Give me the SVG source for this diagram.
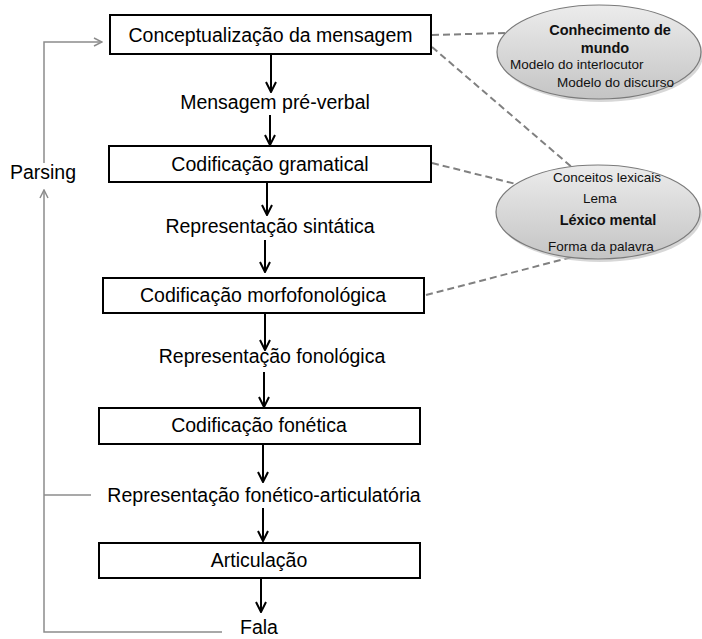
<svg xmlns="http://www.w3.org/2000/svg" width="702" height="639" viewBox="0 0 702 639">
<defs>
<style>
.box{fill:#fff;stroke:#000;stroke-width:2}
.lbl{font-family:"Liberation Sans",Arial,sans-serif;font-size:19.5px;fill:#000;text-anchor:middle}
.sm{font-family:"Liberation Sans",Arial,sans-serif;font-size:13.5px;fill:#111}
.smb{font-family:"Liberation Sans",Arial,sans-serif;font-size:14.5px;font-weight:bold;fill:#111;text-anchor:middle}
.flow{stroke:#000;stroke-width:2;fill:none}
.fb{stroke:#8c8c8c;stroke-width:1.5;fill:none}
.dash{stroke:#808080;stroke-width:2;stroke-dasharray:7 4;fill:none}
.ell{fill:url(#g);stroke:#7a7a7a;stroke-width:1.2}
</style>
<linearGradient id="g" x1="0" y1="0" x2="0" y2="1">
<stop offset="0" stop-color="#ececec"/>
<stop offset="1" stop-color="#c4c4c4"/>
</linearGradient>
<marker id="ah" viewBox="0 0 12 12" refX="11" refY="6" markerWidth="12" markerHeight="12" markerUnits="userSpaceOnUse" orient="auto">
<path d="M1,1 L11,6 L1,11" fill="none" stroke="#000" stroke-width="2"/>
</marker>
<marker id="ag" viewBox="0 0 10 10" refX="9" refY="5" markerWidth="10" markerHeight="10" markerUnits="userSpaceOnUse" orient="auto">
<path d="M1,1 L9,5 L1,9" fill="none" stroke="#8c8c8c" stroke-width="1.5"/>
</marker>
</defs>
<rect width="702" height="639" fill="#fff"/>

<g id="connectors">
<line class="flow" x1="271" y1="55" x2="271" y2="92" marker-end="url(#ah)"/>
<line class="flow" x1="270" y1="115" x2="270" y2="145" marker-end="url(#ah)"/>
<line class="flow" x1="267" y1="183" x2="267" y2="215" marker-end="url(#ah)"/>
<line class="flow" x1="265" y1="240" x2="265" y2="272" marker-end="url(#ah)"/>
<line class="flow" x1="265" y1="314" x2="265" y2="350" marker-end="url(#ah)"/>
<line class="flow" x1="264" y1="372" x2="264" y2="407" marker-end="url(#ah)"/>
<line class="flow" x1="263" y1="445" x2="263" y2="482" marker-end="url(#ah)"/>
<line class="flow" x1="263" y1="508" x2="263" y2="541" marker-end="url(#ah)"/>
<line class="flow" x1="261" y1="579" x2="261" y2="612" marker-end="url(#ah)"/>
<polyline class="fb" points="44,163 44,42 102,42" marker-end="url(#ag)"/>
<polyline class="fb" points="222,632 44,632 44,190" marker-end="url(#ag)"/>
<line class="fb" x1="44" y1="495" x2="91" y2="495"/>
<line class="dash" x1="432" y1="35" x2="506" y2="33"/>
<line class="dash" x1="432" y1="47" x2="574" y2="169"/>
<line class="dash" x1="432" y1="163" x2="580" y2="200"/>
<line class="dash" x1="426" y1="295" x2="580" y2="255"/>
</g>

<g id="n-concept">
<rect class="box" x="110" y="15" width="321" height="39"/>
<text class="lbl" x="270.5" y="42">Conceptualização da mensagem</text>
</g>
<g id="n-msg">
<text class="lbl" x="275" y="109">Mensagem pré-verbal</text>
</g>
<g id="n-gram">
<rect class="box" x="109" y="146" width="322" height="36"/>
<text class="lbl" x="270" y="171">Codificação gramatical</text>
</g>
<g id="n-sint">
<text class="lbl" x="270" y="233">Representação sintática</text>
</g>
<g id="n-morf">
<rect class="box" x="103" y="278" width="321" height="35"/>
<text class="lbl" x="263" y="302">Codificação morfofonológica</text>
</g>
<g id="n-fonol">
<text class="lbl" x="272" y="363">Representação fonológica</text>
</g>
<g id="n-fonet">
<rect class="box" x="99" y="408" width="321" height="36"/>
<text class="lbl" x="259" y="432">Codificação fonética</text>
</g>
<g id="n-artrep">
<text class="lbl" x="264" y="502">Representação fonético-articulatória</text>
</g>
<g id="n-artic">
<rect class="box" x="99" y="543" width="321" height="35"/>
<text class="lbl" x="259" y="567">Articulação</text>
</g>
<g id="n-fala">
<text class="lbl" x="259" y="634">Fala</text>
</g>
<g id="n-parsing">
<text class="lbl" x="43" y="179">Parsing</text>
</g>

<g id="n-mundo">
<ellipse cx="601" cy="55" rx="102" ry="47" fill="#bdbdbd" opacity="0.6"/>
<ellipse class="ell" cx="599" cy="52" rx="102" ry="47"/>
<text class="smb" x="610" y="35">Conhecimento de</text>
<text class="smb" x="605" y="53">mundo</text>
<text class="sm" x="510" y="69">Modelo do interlocutor</text>
<text class="sm" x="557" y="87">Modelo do discurso</text>
</g>
<g id="n-lexico">
<ellipse cx="600" cy="215" rx="102" ry="47" fill="#bdbdbd" opacity="0.6"/>
<ellipse class="ell" cx="598" cy="212" rx="102" ry="47"/>
<text class="sm" x="553" y="182">Conceitos lexicais</text>
<text class="sm" x="583" y="203">Lema</text>
<text class="smb" x="608" y="225">Léxico mental</text>
<text class="sm" x="548" y="251">Forma da palavra</text>
</g>
</svg>
